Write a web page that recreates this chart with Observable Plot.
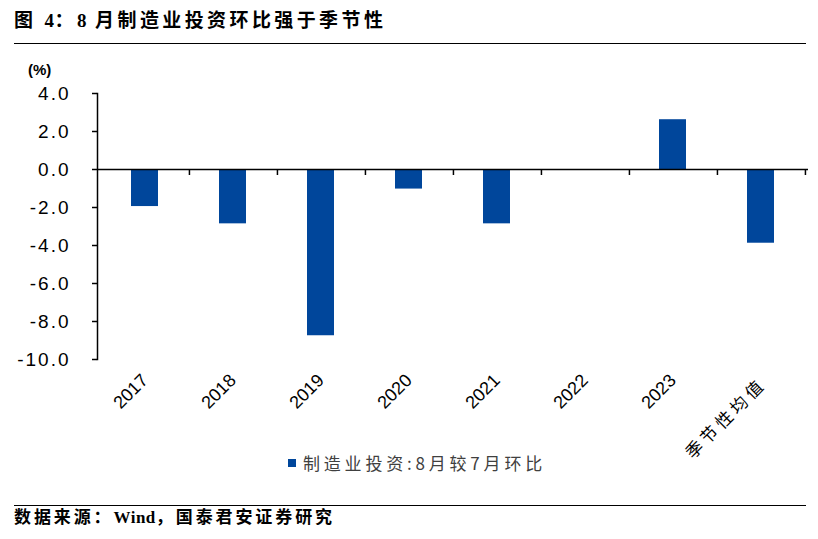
<!DOCTYPE html>
<html>
<head>
<meta charset="utf-8">
<script src="https://cdn.jsdelivr.net/npm/d3@7"></script>
<script src="https://cdn.jsdelivr.net/npm/@observablehq/plot@0.6"></script>
<style>
  html, body { margin: 0; padding: 0; background: #fff; }
  #wrap { position: relative; width: 818px; height: 539px; overflow: hidden; background: #fff; }
  #chart { position: absolute; left: 0; top: 0; }
  .title { position: absolute; left: 14px; top: 11px; font: bold 19px/19px "Liberation Serif", "Noto Sans CJK SC", serif; letter-spacing: 3.4px; color: #000; white-space: nowrap; }
  .foot { position: absolute; left: 14px; top: 509px; font: bold 17px/17px "Liberation Serif", "Noto Sans CJK SC", serif; letter-spacing: 2.9px; color: #000; white-space: nowrap; }
  .lat { letter-spacing: 0.5px; }
  .hline { position: absolute; left: 14px; width: 792px; height: 0; border-top: 1.5px solid #000; }
  .unit { position: absolute; left: 28px; top: 62px; font: bold 15px/15px "Liberation Sans", "Noto Sans CJK SC", sans-serif; color: #000; }
  .legend { position: absolute; left: 288px; top: 454px; display: flex; align-items: center; white-space: nowrap; }
  .legend .sw { width: 8px; height: 8px; margin-right: 7px; }
  .legend .lt { font: 17px/18px "Noto Sans CJK SC", sans-serif; letter-spacing: 3.8px; color: #404040; }
</style>
</head>
<body>
<div id="wrap">
  <div class="title" id="title"></div>
  <div class="hline" style="top:43px"></div>
  <div class="unit">(%)</div>
  <div id="chart"></div>
  <div class="legend" id="legend"></div>
  <div class="hline" style="top:505px"></div>
  <div class="foot" id="foot"></div>
</div>
<script>
const titleParts = ["图 ", "4", "：", "8", " 月制造业投资环比强于季节性"];
const sourceParts = ["数据来源：", "Wind", "，国泰君安证券研究"];
const seriesName = "制造业投资:8月较7月环比";
const categories = ["2017", "2018", "2019", "2020", "2021", "2022", "2023", "季节性均值"];
const values = [-1.95, -2.86, -8.75, -1.03, -2.86, 0, 2.62, -3.88];
const yTicks = [-10, -8, -6, -4, -2, 0, 2, 4];
const barColor = "#00469b";

function fill(el, parts) {
  parts.forEach(p => {
    const s = document.createElement("span");
    if (/^[A-Za-z0-9]+$/.test(p)) s.className = "lat";
    s.textContent = p;
    el.appendChild(s);
  });
}
fill(document.getElementById("title"), titleParts);
fill(document.getElementById("foot"), sourceParts);
const lg = document.getElementById("legend");
lg.innerHTML = `<div class="sw" style="background:${barColor}"></div><div class="lt"></div>`;
lg.querySelector(".lt").textContent = seriesName;

const data = categories.map((c, i) => ({cat: c, value: values[i]}));

const W = 818, H = 539, mL = 97, mR = 10, mT = 93, mB = 180;
const step = (W - mL - mR) / categories.length;
const isNum = d => /^\d+$/.test(d);

const chart = Plot.plot({
  width: W,
  height: H,
  marginLeft: mL,
  marginRight: mR,
  marginTop: mT,
  marginBottom: mB,
  style: {fontFamily: "'Liberation Sans', Arial, sans-serif", fontSize: "17px", color: "#000", background: "transparent"},
  x: {type: "band", domain: categories, paddingInner: 0.69, paddingOuter: 0.345, axis: null},
  y: {domain: [-10, 4], axis: null},
  marks: [
    Plot.barY(data, {x: "cat", y: "value", fill: barColor}),
    Plot.frame({anchor: "left", stroke: "#000", strokeWidth: 1.5}),
    Plot.axisY(yTicks, {anchor: "left", label: null, tickSize: 5, tickPadding: 22, strokeWidth: 1.5,
      tickFormat: d => d.toFixed(1), fontSize: 19}),
    Plot.ruleY([0], {stroke: "#000", strokeWidth: 1.5}),
    Plot.ruleX(categories, {x: d => d, y1: 0, y2: 0, insetBottom: -6, dx: step / 2, stroke: "#000", strokeWidth: 1.5}),
    Plot.text(categories.filter(isNum), {x: d => d, frameAnchor: "bottom", rotate: -45, textAnchor: "end",
      dx: 4, dy: 22, fontSize: 18}),
    Plot.text(categories.filter(d => !isNum(d)), {x: d => d, frameAnchor: "bottom", rotate: -45, textAnchor: "end",
      dx: 6, dy: 26, fontSize: 17, fontFamily: "'Noto Sans CJK SC', sans-serif"})
  ]
});
chart.querySelectorAll("text").forEach(t => {
  if (/[\u4e00-\u9fff]/.test(t.textContent)) t.setAttribute("letter-spacing", "4");
  else if (/\.\d$/.test(t.textContent)) t.setAttribute("letter-spacing", "2");
});
document.getElementById("chart").appendChild(chart);
</script>
</body>
</html>
